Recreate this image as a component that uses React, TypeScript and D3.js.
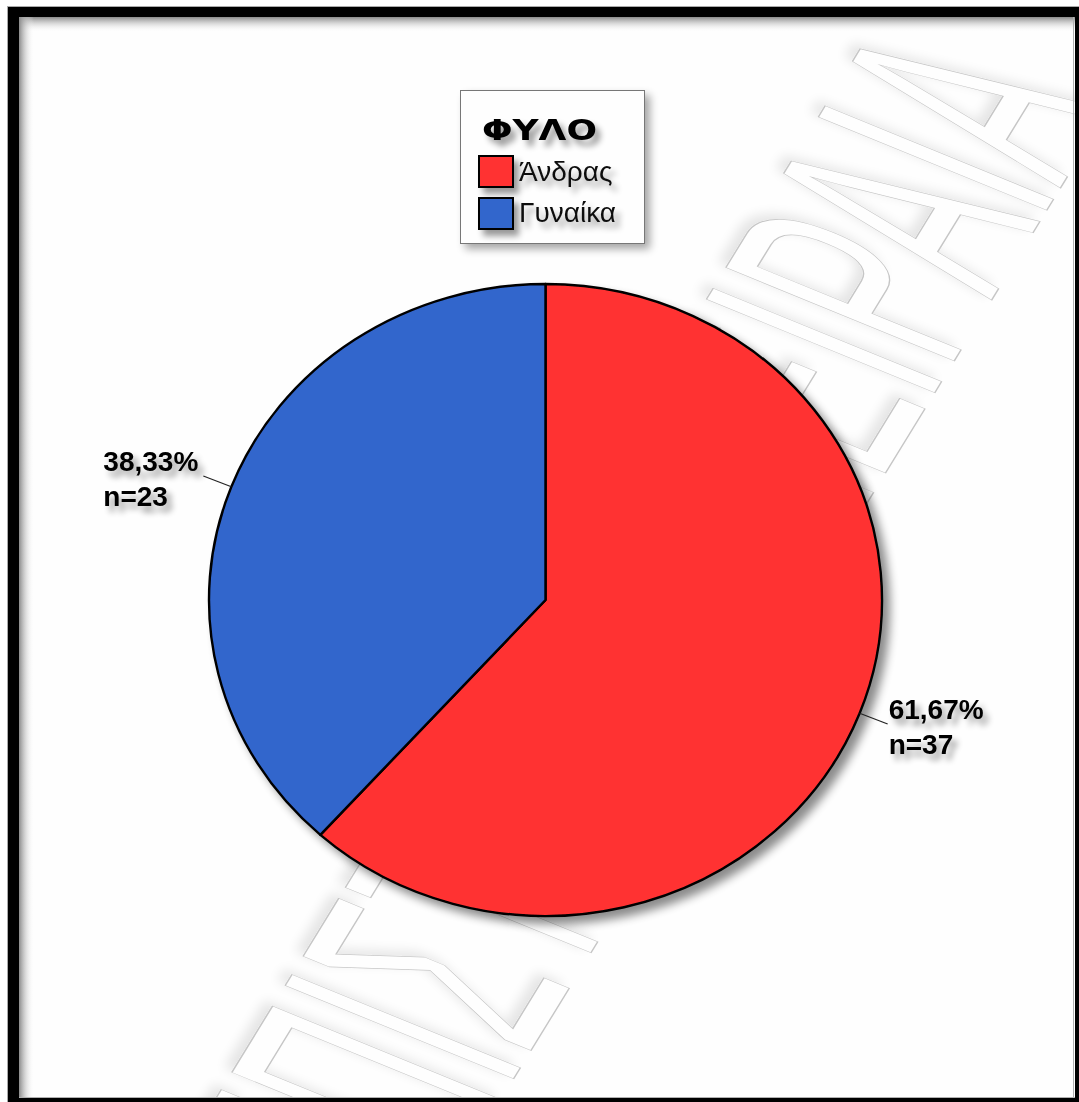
import React from 'react';
import * as d3 from 'd3';

const categories = ['Άνδρας', 'Γυναίκα'];
const counts = [37, 23];
const percentLabels = ['61,67%', '38,33%'];
const colors = ['#FF3333', '#3366CC'];
const legendTitle = 'ΦΥΛΟ';
const watermarkText = 'ΠΑΝΕΠΙΣΤΗΜΙΟ ΠΕΙΡΑΙΑ';

export default function App() {
  const W = 1079, H = 1102;
  const cx = 545.5, cy = 600, rx = 336.5, ry = 316;
  const sx = rx / ry;

  const pieGen = d3.pie<number>().sort(null).value((d) => d);
  const arcs = pieGen(counts);
  const arcGen = d3.arc<d3.PieArcDatum<number>>().innerRadius(0).outerRadius(ry);

  const labelFont = '"Liberation Sans", Arial, sans-serif';

  const leaders = arcs.map((a, i) => {
    const mid = (a.startAngle + a.endAngle) / 2;
    const s = { x: cx + rx * Math.sin(mid), y: cy - ry * Math.cos(mid) };
    const dir = { x: Math.sin(mid), y: -Math.cos(mid) };
    const e = { x: s.x + dir.x * 30, y: s.y + dir.y * 30 };
    return { s, e, right: dir.x > 0, i };
  });

  // watermark transform: baseline direction and letter-down direction
  const b = [0.523, -0.852];
  const dn = [0.93, 0.38];
  const wsx = 0.39;
  const wm = `matrix(${b[0] * wsx} ${b[1] * wsx} ${dn[0]} ${dn[1]} 252 1505)`;

  return (
    <svg width={W} height={H} style={{ position: 'absolute', left: 0, top: 0, background: '#fff' }}>
      <defs>
        <filter id="shadowPie" x="-20%" y="-20%" width="140%" height="140%">
          <feGaussianBlur in="SourceAlpha" stdDeviation="5" />
          <feOffset dx="7" dy="7" result="ob" />
          <feComponentTransfer><feFuncA type="linear" slope="0.45" /></feComponentTransfer>
          <feMerge><feMergeNode /><feMergeNode in="SourceGraphic" /></feMerge>
        </filter>
        <filter id="shadowText" x="-20%" y="-40%" width="150%" height="200%">
          <feGaussianBlur in="SourceAlpha" stdDeviation="3" />
          <feOffset dx="5" dy="6" />
          <feComponentTransfer><feFuncA type="linear" slope="0.4" /></feComponentTransfer>
          <feMerge><feMergeNode /><feMergeNode in="SourceGraphic" /></feMerge>
        </filter>
        <filter id="shadowBox" x="-20%" y="-20%" width="150%" height="150%">
          <feGaussianBlur in="SourceAlpha" stdDeviation="4" />
          <feOffset dx="5" dy="5" />
          <feComponentTransfer><feFuncA type="linear" slope="0.35" /></feComponentTransfer>
          <feMerge><feMergeNode /><feMergeNode in="SourceGraphic" /></feMerge>
        </filter>
        <filter id="wmShadow" x="-10%" y="-10%" width="120%" height="120%">
          <feGaussianBlur in="SourceAlpha" stdDeviation="6" />
          <feOffset dx="-7" dy="-5" />
          <feComponentTransfer><feFuncA type="linear" slope="0.1" /></feComponentTransfer>
          <feMerge><feMergeNode /><feMergeNode in="SourceGraphic" /></feMerge>
        </filter>
        <linearGradient id="gTop" x1="0" y1="0" x2="0" y2="1">
          <stop offset="0" stopColor="#8a8a8a" />
          <stop offset="1" stopColor="#fefefe" stopOpacity="0" />
        </linearGradient>
        <linearGradient id="gLeft" x1="0" y1="0" x2="1" y2="0">
          <stop offset="0" stopColor="#8a8a8a" />
          <stop offset="1" stopColor="#fefefe" stopOpacity="0" />
        </linearGradient>
        <clipPath id="inner">
          <rect x={19} y={17} width={1056} height={1081} />
        </clipPath>
      </defs>

      {/* frame */}
      <rect x={7} y={6} width={1100} height={1110} fill="#aaa" />
      <rect x={8} y={7} width={1100} height={1110} fill="#000" />
      <rect x={19} y={17} width={1056} height={1081} fill="#fefefe" />

      <g clipPath="url(#inner)">
        {/* watermark */}
        <g filter="url(#wmShadow)">
          <g transform={wm}>
            <text
              x={0}
              y={0}
              fontFamily={labelFont}
              fontSize={357}
              fill="#fefefe"
              stroke="#c6c6c6"
              strokeWidth={1.1}
              style={{ vectorEffect: 'non-scaling-stroke' } as any}
            >
              {watermarkText}
            </text>
          </g>
        </g>

        {/* inner shadow */}
        <rect x={19} y={17} width={1056} height={15} fill="url(#gTop)" />
        <rect x={19} y={17} width={15} height={1081} fill="url(#gLeft)" />
        <line x1={1073.5} y1={17} x2={1073.5} y2={1098} stroke="#b0b0b0" strokeWidth={1} />
        <line x1={19} y1={1097.5} x2={1075} y2={1097.5} stroke="#b0b0b0" strokeWidth={1} />

        {/* pie */}
        <g filter="url(#shadowPie)">
          <g transform={`translate(${cx},${cy}) scale(${sx},1)`}>
            {arcs.map((a, i) => (
              <path
                key={i}
                d={arcGen(a) || ''}
                fill={colors[i]}
                stroke="#000"
                strokeWidth={2.4}
                strokeLinejoin="round"
                style={{ vectorEffect: 'non-scaling-stroke' } as any}
              />
            ))}
          </g>
        </g>

        {/* leaders */}
        {leaders.map((l) => (
          <line key={'l' + l.i} x1={l.s.x} y1={l.s.y} x2={l.e.x} y2={l.e.y} stroke="#222" strokeWidth={1.2} />
        ))}

        {/* labels */}
        <g filter="url(#shadowText)" fontFamily={labelFont} fontWeight="bold" fontSize={28} fill="#000">
          {leaders.map((l) => {
            const x = l.right ? l.e.x + 1 : l.e.x - 100;
            return (
              <g key={'t' + l.i}>
                <text x={x} y={l.e.y - 5}>{percentLabels[l.i]}</text>
                <text x={x} y={l.e.y + 30}>{`n=${counts[l.i]}`}</text>
              </g>
            );
          })}
        </g>

        {/* legend */}
        <rect x={460.5} y={90.5} width={184} height={153} fill="#fefefe" stroke="#777" strokeWidth={1} filter="url(#shadowBox)" />
        <g filter="url(#shadowText)">
          <text x={482} y={140} fontFamily='"DejaVu Sans", sans-serif' fontWeight="bold" fontSize={29} textLength={115} lengthAdjust="spacingAndGlyphs">
            {legendTitle}
          </text>
          {categories.map((c, i) => (
            <g key={c}>
              <rect x={479} y={156 + i * 42} width={34} height={31} fill={colors[i]} stroke="#000" strokeWidth={2} />
              <text x={519} y={181 + i * 41} fontFamily={labelFont} fontSize={28} fill="#111">
                {c}
              </text>
            </g>
          ))}
        </g>
      </g>
    </svg>
  );
}
